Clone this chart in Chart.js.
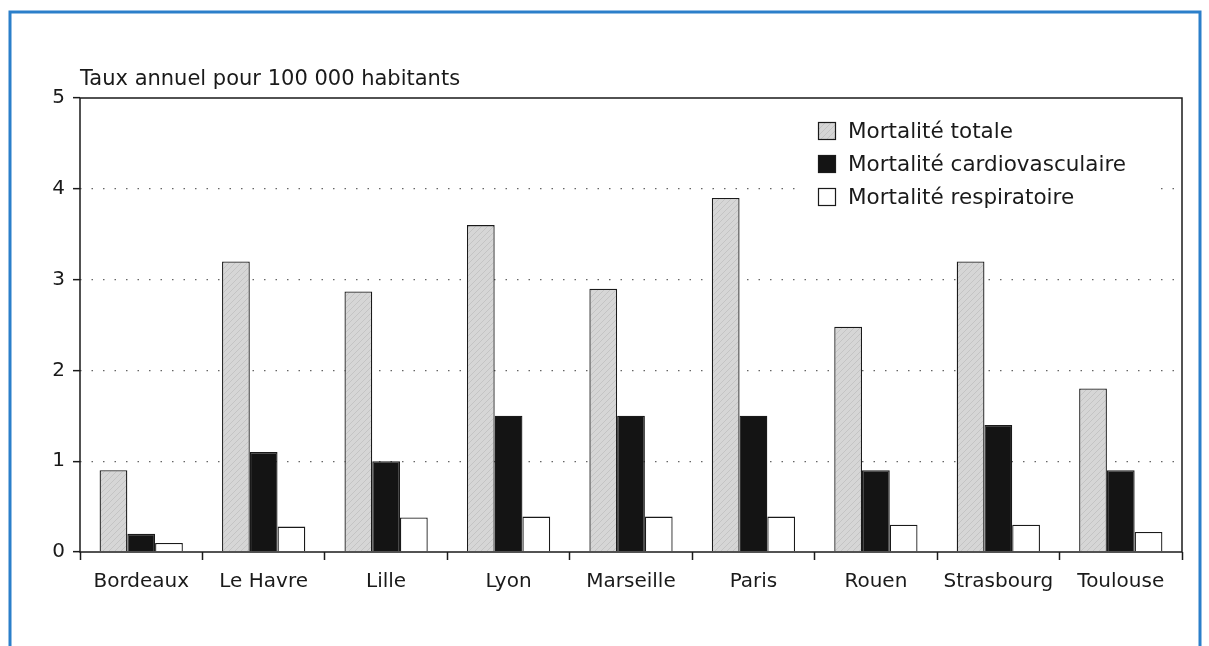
<!DOCTYPE html>
<html lang="fr">
<head>
<meta charset="utf-8">
<script src="https://cdn.jsdelivr.net/npm/chart.js@4.4.0/dist/chart.umd.min.js"></script>
<style>
  html, body { margin: 0; padding: 0; background: #fff; }
  canvas { display: block; }
</style>
</head>
<body>
<canvas id="chart" width="1209" height="646"></canvas>
<script>
const cities = ["Bordeaux", "Le Havre", "Lille", "Lyon", "Marseille", "Paris", "Rouen", "Strasbourg", "Toulouse"];
const totale = [0.9, 3.2, 2.87, 3.6, 2.9, 3.9, 2.48, 3.2, 1.8];
const cardio = [0.2, 1.1, 1.0, 1.5, 1.5, 1.5, 0.9, 1.4, 0.9];
const respi = [0.1, 0.28, 0.38, 0.39, 0.39, 0.39, 0.3, 0.3, 0.22];
const seriesNames = ["Mortalité totale", "Mortalité cardiovasculaire", "Mortalité respiratoire"];
const yMax = 5;
const yTitle = "Taux annuel pour 100 000 habitants";

const FONT = "'DejaVu Sans', sans-serif";
const INK = "#1a1a1a";

// light grey with a faint diagonal grain, like the printed screen
function greyPattern() {
  const c = document.createElement("canvas");
  c.width = 6;
  c.height = 6;
  const g = c.getContext("2d");
  g.fillStyle = "#d6d6d6";
  g.fillRect(0, 0, 6, 6);
  g.strokeStyle = "#c4c4c4";
  g.lineWidth = 1;
  g.beginPath();
  g.moveTo(0, 6);
  g.lineTo(6, 0);
  g.stroke();
  return g.createPattern(c, "repeat");
}
const grey = greyPattern();

const decor = {
  id: "decor",
  afterDraw(chart) {
    const ctx = chart.ctx;
    const a = chart.chartArea;
    ctx.save();

    // blue page frame
    ctx.strokeStyle = "#2b7fca";
    ctx.lineWidth = 3;
    ctx.beginPath();
    ctx.moveTo(10, 646);
    ctx.lineTo(10, 12);
    ctx.lineTo(1200, 12);
    ctx.lineTo(1200, 646);
    ctx.stroke();

    // plot box
    ctx.strokeStyle = INK;
    ctx.lineWidth = 1.5;
    ctx.strokeRect(a.left, a.top, a.right - a.left, a.bottom - a.top);

    // axis title
    ctx.fillStyle = INK;
    ctx.font = "21px " + FONT;
    ctx.textAlign = "left";
    ctx.textBaseline = "alphabetic";
    ctx.fillText(yTitle, a.left, 85);

    // legend inside the plot, on a white patch hiding the grid
    ctx.fillStyle = "#ffffff";
    ctx.fillRect(798, 110, 362, 104);
    ctx.font = "21.5px " + FONT;
    ctx.textBaseline = "middle";
    chart.data.datasets.forEach((ds, i) => {
      const y = 131 + i * 33;
      ctx.fillStyle = ds.backgroundColor;
      ctx.fillRect(818, y - 9, 18, 18);
      ctx.strokeStyle = INK;
      ctx.lineWidth = 1.2;
      ctx.strokeRect(818.5, y - 8.5, 17, 17);
      ctx.fillStyle = INK;
      ctx.fillText(ds.label, 848, y + 1);
    });
    ctx.restore();
  }
};

const ctx = document.getElementById("chart").getContext("2d");
new Chart(ctx, {
  type: "bar",
  data: {
    labels: cities,
    datasets: [
      { label: seriesNames[0], data: totale, backgroundColor: grey, borderColor: INK, borderWidth: 1.3 },
      { label: seriesNames[1], data: cardio, backgroundColor: "#141414", borderColor: INK, borderWidth: 1.3 },
      { label: seriesNames[2], data: respi, backgroundColor: "#ffffff", borderColor: INK, borderWidth: 1.3 }
    ]
  },
  options: {
    responsive: false,
    animation: false,
    layout: { padding: { top: 98, right: 27, left: 0, bottom: 0 } },
    datasets: { bar: { categoryPercentage: 0.68, barPercentage: 1 } },
    plugins: { legend: { display: false }, tooltip: { enabled: false } },
    scales: {
      x: {
        afterFit: s => { s.height = 94; },
        grid: { offset: true, drawOnChartArea: false, tickLength: 8, tickColor: INK, tickWidth: 1.5 },
        border: { display: false },
        ticks: { color: INK, font: { family: FONT, size: 20 }, padding: 10, maxRotation: 0, autoSkip: false }
      },
      y: {
        min: 0,
        max: yMax,
        afterFit: s => { s.width = 80; },
        grid: {
          color: c => (c.tick && c.tick.value > 0 && c.tick.value < yMax) ? "#666" : "rgba(0,0,0,0)",
          lineWidth: 1.3,
          tickLength: 7,
          tickColor: INK,
          tickWidth: 1.5
        },
        border: { display: false, dash: [1.5, 10] },
        ticks: { stepSize: 1, color: INK, font: { family: FONT, size: 20 }, padding: 8 }
      }
    }
  },
  plugins: [decor]
});
</script>
</body>
</html>
